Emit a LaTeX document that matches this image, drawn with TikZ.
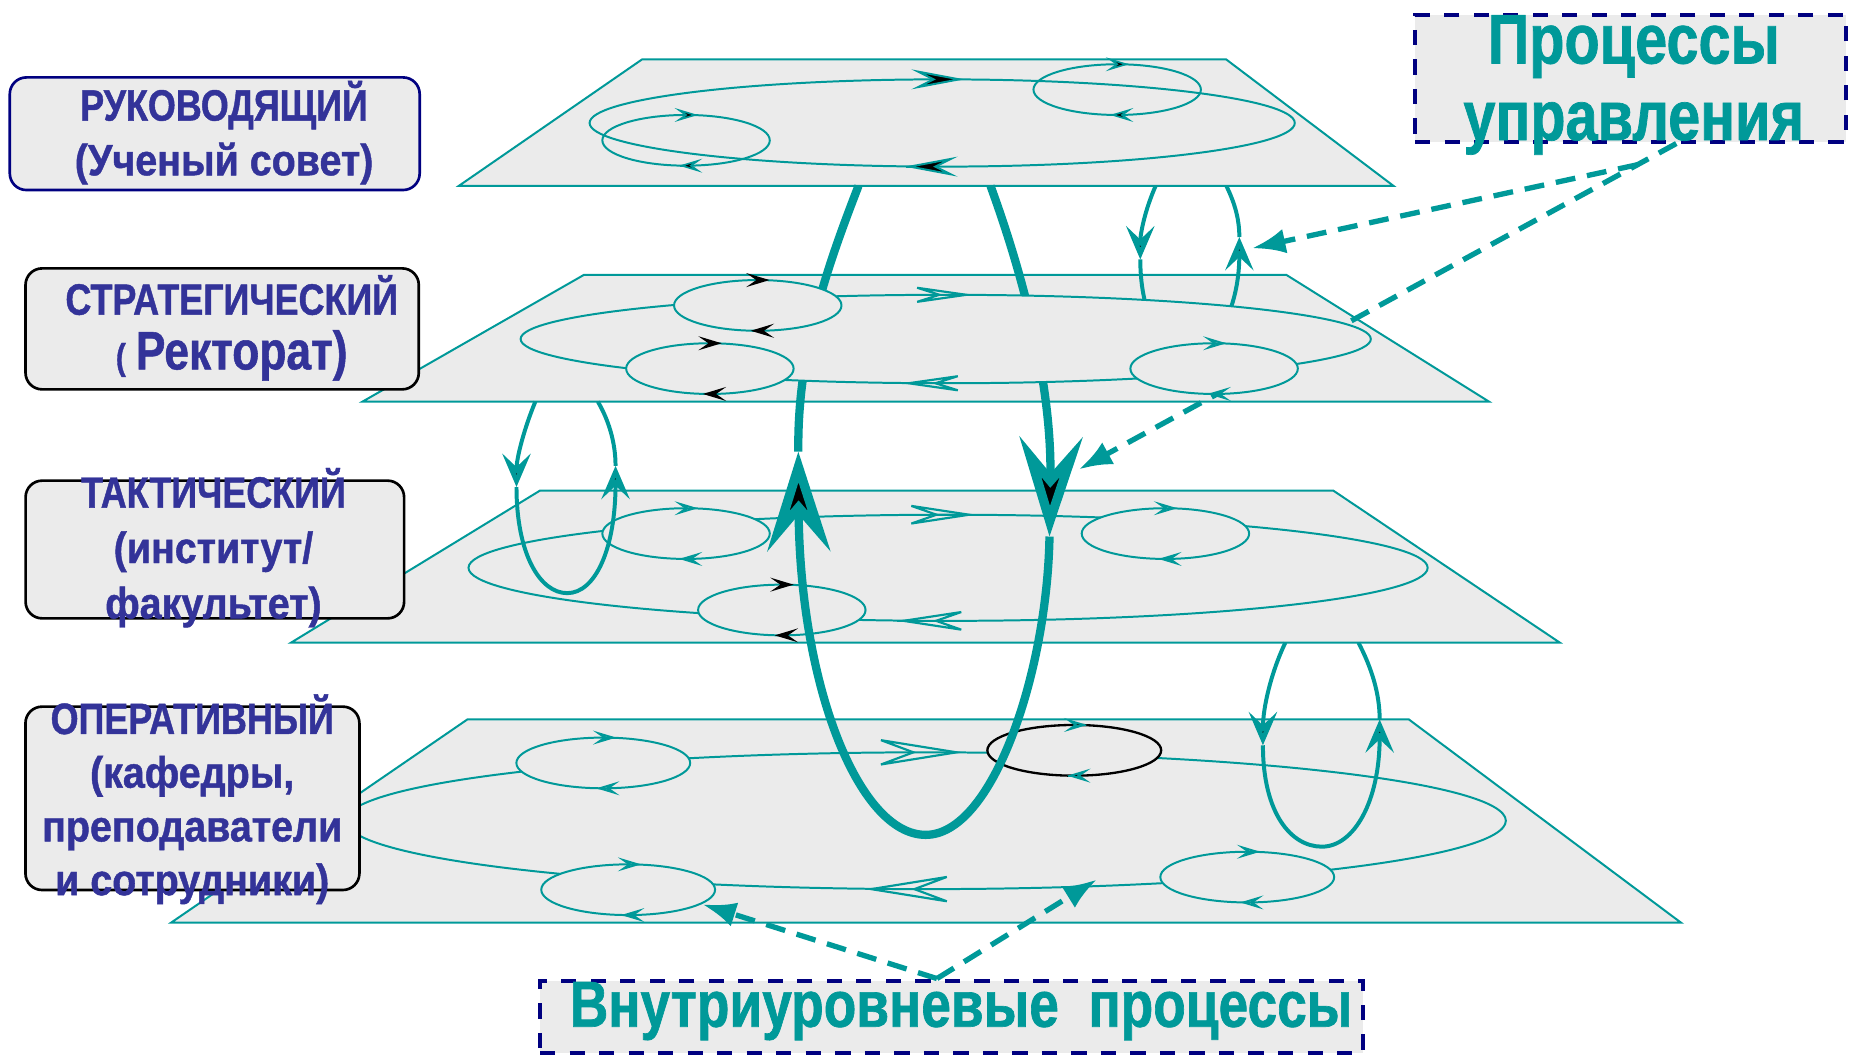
\documentclass[tikz,border=0pt]{standalone}
\usepackage{fontspec}
\setmainfont{Liberation Sans}[FakeStretch=0.82, FakeBold=1]
\newfontfamily\lowerfont{Liberation Sans}[FakeStretch=0.9, FakeBold=1]
\usetikzlibrary{arrows.meta, calc}
\definecolor{sea}{RGB}{0,153,153}
\definecolor{planegray}{RGB}{235,235,235}
\definecolor{levelblue}{RGB}{51,51,153}
\definecolor{navyline}{RGB}{0,0,128}
\newcommand{\unitpx}{0.0125cm}
\tikzstyle{plane}=[draw=sea, fill=planegray, line width=0.6pt]
\tikzstyle{orbit}=[draw=sea, line width=0.6pt]
\tikzstyle{suborbit}=[draw=sea, fill=planegray, line width=0.6pt]
\tikzstyle{lift}=[draw=sea, line width=1.2pt]
\tikzstyle{biglift}=[draw=sea, line width=2.5pt]
\tikzstyle{lifttip}=[-{Stealth[length=10pt, width=8.5pt, inset=4pt, line width=1.4pt, fill=black]}]
\tikzstyle{biglifttip}=[-{Stealth[length=30pt, width=19pt, inset=11pt, line width=2.8pt, fill=black]}]
\tikzstyle{hinttip}=[draw=sea, line width=0.01pt]
\tikzstyle{fulltip}=[hinttip, -{Stealth[length=16pt, width=6pt, inset=6pt, line width=0.6pt, fill=black]}]
\tikzstyle{smallfull}=[hinttip, -{Stealth[length=7pt, width=4.2pt, inset=3pt, line width=0.5pt, fill=black]}]
\tikzstyle{smallopen}=[hinttip, -{Stealth[open, length=7pt, width=4.2pt, inset=3pt, line width=0.6pt]}]
\tikzstyle{smallblack}=[hinttip, -{Stealth[open, length=7pt, width=4.2pt, inset=3pt, line width=0.8pt, color=black]}]
\tikzset{bigopen/.style n args={3}{hinttip, -{Stealth[open, length=#1, width=#2, inset=#3, line width=0.65pt]}}}
\tikzstyle{levelbox}=[draw=black, fill=planegray, line width=0.8pt, rounded corners=5pt]
\tikzstyle{leveltext}=[text=levelblue, align=center, font=\bfseries\fontsize{13.2}{16.5}\selectfont]
\tikzstyle{procbox}=[draw=navyline, fill=planegray, line width=1.2pt, dash pattern=on 4.6pt off 4.3pt]
\tikzstyle{proctext}=[text=sea, align=center, font=\bfseries\fontsize{21.2}{23.1}\selectfont]
\tikzstyle{pointer}=[draw=sea, line width=1.6pt, dash pattern=on 6pt off 3.6pt, -{Latex[length=10pt, width=7.5pt]}]

\begin{document}
\begin{tikzpicture}[x=\unitpx, y=-\unitpx]
  \useasboundingbox (0,0) rectangle (1568,896);

  % process boxes
  \node[procbox, minimum width=365.6*\unitpx, minimum height=107.3*\unitpx] (upr) at (1382.8,66.4) {};
  \node[proctext] (uprtext) at (1385.5,72) {Процессы\\управления};
  \node[procbox, minimum width=698*\unitpx, minimum height=61.5*\unitpx] (inner) at (807,862.3) {};
  \node[proctext, font=\bfseries\fontsize{19.6}{22}\selectfont, anchor=base] (innertext)
      at (815,870.7) {Внутриуровневые\ \ процессы};

  % level 1
  \draw[plane] (544.6,50.3) -- (1039.7,50.3) -- (1181.8,157.7) -- (389,157.7) -- cycle;
  \draw[orbit] (799,104.3) ellipse [x radius=299, y radius=37];
  \draw[fulltip] (817,67.3) -- (818,67.3);
  \draw[fulltip] (768,141.3) -- (767,141.3);
  \foreach \cx/\cy in {581.8/119, 947.4/76}{
    \draw[orbit] (\cx,\cy) ellipse [x radius=71, y radius=21.5];
    \draw[smallfull] (\cx+9,\cy-21.5) -- (\cx+10,\cy-21.5);
    \draw[smallfull] (\cx-5,\cy+21.5) -- (\cx-6,\cy+21.5);
  }

  % level 3
  \draw[plane] (458,416) -- (1130.6,416) -- (1322.8,545) -- (246.8,545) -- cycle;
  \draw[orbit] (804,481.5) ellipse [x radius=406.7, y radius=45];
  \draw[bigopen={23pt}{7pt}{10pt}] (827,436.5) -- (828,436.5);
  \draw[bigopen={23pt}{7pt}{10pt}] (761,526.5) -- (760,526.5);
  \foreach \cx/\cy in {581.8/452.5, 988.3/452.5}{
    \draw[suborbit] (\cx,\cy) ellipse [x radius=71, y radius=21.5];
    \draw[smallopen] (\cx+9,\cy-21.5) -- (\cx+10,\cy-21.5);
    \draw[smallopen] (\cx-5,\cy+21.5) -- (\cx-6,\cy+21.5);
  }
  \draw[suborbit] (663,517.3) ellipse [x radius=71, y radius=21.5];
  \draw[smallblack] (672,495.8) -- (673,495.8);
  \draw[smallblack] (658,538.8) -- (657,538.8);

  % level 4
  \draw[plane] (396.5,610) -- (1194.6,610) -- (1425.6,782.5) -- (145,782.5) -- cycle;
  \draw[orbit] (785,696) ellipse [x radius=492, y radius=58];
  \draw[bigopen={28pt}{9pt}{12pt}] (816,638) -- (817,638);
  \draw[bigopen={28pt}{9pt}{12pt}] (734,754) -- (733,754);
  \foreach \cx/\cy in {511.6/647, 532.7/754.5, 1057.7/743.8}{
    \draw[suborbit] (\cx,\cy) ellipse [x radius=73.7, y radius=21.5];
    \draw[smallopen] (\cx+10,\cy-21.5) -- (\cx+11,\cy-21.5);
    \draw[smallopen] (\cx-5,\cy+21.5) -- (\cx-6,\cy+21.5);
  }
  \draw[suborbit, draw=black, line width=0.7pt] (911,636.3) ellipse [x radius=73.7, y radius=21.5];
  \draw[smallopen] (921,614.8) -- (922,614.8);
  \draw[smallopen] (906,657.8) -- (905,657.8);

  % level 2
  \draw[plane] (495,233.2) -- (1091,233.2) -- (1262.7,340.6) -- (307.4,340.6) -- cycle;

  \coordinate (downmark) at (915,398);
  \coordinate (liftmark) at (1062,210.5);
  \coordinate (fork) at ($(upr.-55)!0.065!(downmark)$);
  \draw[pointer] (upr.-55) -- (downmark);

  % loops between the levels
  \draw[biglift, biglifttip] (840,157.7) .. controls (870,240) and (892,330) .. (890,455);
  \draw[biglift, biglifttip] (890,455) .. controls (888,570) and (842,708) .. (785,708)
      .. controls (728,708) and (678,580) .. (677,383);
  \draw[biglift] (677,383) .. controls (676,300) and (700,230) .. (728,157.7);

  \draw[lift, lifttip] (980,157.7) .. controls (971,178) and (967,198) .. (967,220);
  \draw[lift, lifttip] (967,220) .. controls (967,270) and (987,300) .. (1008,300)
      .. controls (1030,300) and (1051,262) .. (1051,201);
  \draw[lift] (1051,201) .. controls (1051,184) and (1046,170) .. (1040,157.7);

  \draw[lift, lifttip] (454,340.6) .. controls (445,362) and (438,388) .. (438,413);
  \draw[lift, lifttip] (438,413) .. controls (438,470) and (458,503) .. (481,503)
      .. controls (505,503) and (522,465) .. (522,395);
  \draw[lift] (522,395) .. controls (522,375) and (516,356) .. (507,340.6);

  \draw[lift, lifttip] (1090,545) .. controls (1078,570) and (1071,600) .. (1071,632);
  \draw[lift, lifttip] (1071,632) .. controls (1071,690) and (1095,718) .. (1121,718)
      .. controls (1148,718) and (1170,680) .. (1170,610);
  \draw[lift] (1170,610) .. controls (1170,588) and (1163,566) .. (1152,545);

  % level 2 cycles lie over the loops
  \draw[suborbit] (802,287.5) ellipse [x radius=360.5, y radius=37.5];
  \draw[bigopen={21pt}{6pt}{9.5pt}] (825,250) -- (826,250);
  \draw[bigopen={21pt}{6pt}{9.5pt}] (765,325) -- (764,325);
  \foreach \cx/\cy in {642.6/259, 602/312.6}{
    \draw[suborbit] (\cx,\cy) ellipse [x radius=71, y radius=21.5];
    \draw[smallblack] (\cx+9,\cy-21.5) -- (\cx+10,\cy-21.5);
    \draw[smallblack] (\cx-5,\cy+21.5) -- (\cx-6,\cy+21.5);
  }
  \draw[suborbit] (1029.6,312.6) ellipse [x radius=71, y radius=21.5];
  \draw[smallopen] (1039,291.1) -- (1040,291.1);
  \draw[smallopen] (1025,334.1) -- (1024,334.1);

  % level names
  \node[levelbox, draw=navyline, minimum width=347.6*\unitpx, minimum height=95.5*\unitpx] (rukbox) at (182.1,113.4) {};
  \node[leveltext] (ruk) at (190,112.5) {РУКОВОДЯЩИЙ\\{\lowerfont (Ученый совет)}};
  \node[levelbox, minimum width=333.5*\unitpx, minimum height=102.6*\unitpx] (strbox) at (188.4,278.9) {};
  \node[leveltext] (str) at (196.5,278) {СТРАТЕГИЧЕСКИЙ\\{\fontsize{11}{11}\selectfont(} {\fontsize{16.3}{16}\selectfont Ректорат)}};
  \node[levelbox, minimum width=321*\unitpx, minimum height=116.8*\unitpx] (takbox) at (182.2,466) {};
  \node[leveltext, font=\bfseries\fontsize{13.2}{16.7}\selectfont] (tak) at (181,464.5) {ТАКТИЧЕСКИЙ\\{\lowerfont (институт/}\\{\lowerfont факультет)}};
  \node[levelbox, minimum width=283.2*\unitpx, minimum height=155.5*\unitpx] (opbox) at (163.2,677) {};
  \node[leveltext, font=\bfseries\fontsize{13.2}{16.2}\selectfont] (op) at (163,677.8) {ОПЕРАТИВНЫЙ\\{\lowerfont (кафедры,}\\{\lowerfont преподаватели}\\{\lowerfont и сотрудники)}};

  % pointers
  \draw[pointer] (fork) -- (liftmark);
  \coordinate (leftmark) at (596,767);
  \coordinate (rightmark) at (930,746);
  \draw[pointer] (inner.111) -- (leftmark);
  \draw[pointer] (inner.111) -- (rightmark);
\end{tikzpicture}
\end{document}
